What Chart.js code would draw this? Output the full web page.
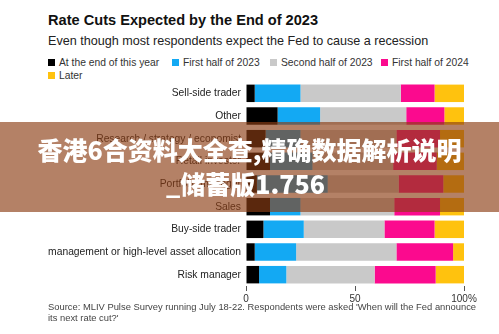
<!DOCTYPE html>
<html>
<head>
<meta charset="utf-8">
<script src="https://cdn.jsdelivr.net/npm/chart.js@4.4.0/dist/chart.umd.min.js"></script>
<style>
  html, body { margin: 0; padding: 0; background: #fff; }
  body { width: 499px; height: 334px; position: relative; overflow: hidden; font-family: "Liberation Sans", Arial, sans-serif; color: #111; }
  #title { position: absolute; left: 48px; top: 12px; font-size: 14.6px; font-weight: bold; }
  #sub { position: absolute; left: 48px; top: 34px; font-size: 12.6px; color: #222; }
  .leg { position: absolute; font-size: 10.3px; color: #333; white-space: nowrap; }
  .leg i { display: inline-block; width: 7px; height: 7px; margin-right: 4px; vertical-align: 0px; }
  #wrap { position: absolute; left: 0; top: 78px; width: 499px; height: 229px; }
  #src { position: absolute; left: 48px; top: 302px; font-size: 9.4px; color: #444; line-height: 10.5px; }
  #band { position: absolute; left: 0; top: 122px; width: 499px; height: 90px; background: rgba(140, 62, 20, 0.65); z-index: 5; }
  #band div { position: absolute; left: 0; width: 499px; text-align: center; color: #fff; font-family: "Noto Sans CJK SC", sans-serif; font-weight: 900; font-size: 25px; line-height: 30px; }
</style>
</head>
<body>
<div id="title">Rate Cuts Expected by the End of 2023</div>
<div id="sub">Even though most respondents expect the Fed to cause a recession</div>
<div id="legend"></div>
<div id="wrap"><canvas id="myChart"></canvas></div>
<div id="src">Source: MLIV Pulse Survey running July 18-22. Respondents were asked 'When will the Fed announce<br>its next rate cut?'</div>
<div id="band"><div style="top:12px">香港6合资料大全查,精确数据解析说明</div><div style="top:46px;left:-4px">_储蓄版1.756</div></div>
<script>
const categories = ['Sell-side trader', 'Other', 'Research / strategy / economist', 'Retail investor',
	'Portfolio manager', 'Sales', 'Buy-side trader', 'management or high-level asset allocation', 'Risk manager'];
const endOfYear   = [4, 14.5, 9, 11, 5, 11, 8, 4, 6];
const firstH2023  = [21, 19.5, 16, 19.5, 32.5, 14, 18.5, 19, 12.5];
const secondH2023 = [46, 39.5, 44, 37, 32.5, 43, 37, 46, 40.5];
const firstH2024  = [15.5, 17.5, 20, 20, 20.5, 21, 23, 26, 28];
const later       = [13.5, 9, 11, 12.5, 9.5, 11, 13.5, 5, 13];
const seriesNames = ['At the end of this year', 'First half of 2023', 'Second half of 2023', 'First half of 2024', 'Later'];
const colors = ['#000000', '#13a9f3', '#c9c9c9', '#fb0a8e', '#ffc20e'];
const xTicks = [0, 50, 100];

// legend in html, same spots as the picture
const legPos = [[48, 57], [172, 57], [270, 57], [381, 57], [48, 70]];
let legHtml = '';
seriesNames.forEach(function(n, i){
	legHtml += '<div class="leg" style="left:' + legPos[i][0] + 'px;top:' + legPos[i][1] + 'px"><i style="background:' + colors[i] + '"></i>' + n + '</div>';
});
document.getElementById('legend').innerHTML = legHtml;

const all = [endOfYear, firstH2023, secondH2023, firstH2024, later];
const ctx = document.getElementById('myChart');

new Chart(ctx, {
	type: 'bar',
	data: {
		labels: categories,
		datasets: all.map(function(d, i){
			return { label: seriesNames[i], data: d, backgroundColor: colors[i], borderWidth: 0,
				categoryPercentage: 1, barPercentage: 0.77 };
		})
	},
	options: {
		indexAxis: 'y',
		responsive: true,
		maintainAspectRatio: false,
		animation: false,
		layout: { padding: { top: 4, right: 35, left: 0, bottom: 0 } },
		plugins: { legend: { display: false }, tooltip: { enabled: false } },
		scales: {
			x: {
				stacked: true,
				min: 0, max: 100,
				afterBuildTicks: function(s){ s.ticks = xTicks.map(function(v){ return { value: v }; }); },
				ticks: {
					color: '#333', font: { size: 10, family: 'Liberation Sans' }, padding: 2,
					maxRotation: 0,
					callback: function(v){ return v === 100 ? '100%' : v; }
				},
				grid: { drawOnChartArea: false, tickLength: 5, color: '#555' },
				border: { display: false }
			},
			y: {
				stacked: true,
				afterFit: function(s){ s.width = 246; },
				ticks: { color: '#222', font: { size: 10.3, family: 'Liberation Sans' }, padding: -3 },
				grid: { display: false },
				border: { display: false }
			}
		}
	}
});
</script>
</body>
</html>
